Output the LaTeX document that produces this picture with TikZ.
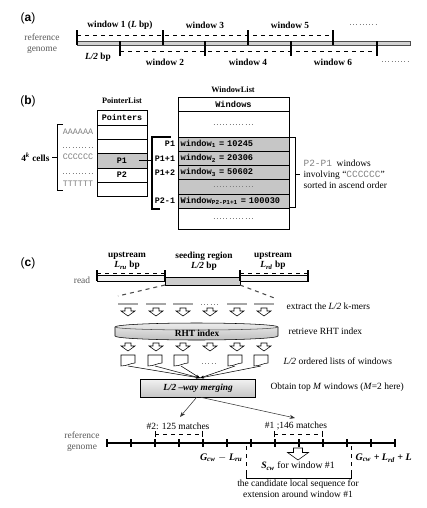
\documentclass[tikz,border=0pt]{standalone}
\usepackage{fontspec}
\setmainfont{Liberation Serif}
\setsansfont{Liberation Sans}
\setmonofont{Liberation Mono}
\usetikzlibrary{positioning,arrows.meta,calc}

\begin{document}
\begin{tikzpicture}[x=0.75pt,y=-0.75pt,
    lbl/.style={font=\fontsize{7.1}{8.3}\selectfont,inner sep=1pt},
    blbl/.style={font=\fontsize{7}{7.6}\selectfont\bfseries,inner sep=1pt},
    glbl/.style={lbl,text=gray!70!black,align=center},
    panel/.style={font=\fontsize{9}{10}\selectfont\sffamily,inner sep=0pt},
    code/.style={font=\fontsize{6.3}{7}\selectfont\ttfamily,inner sep=1pt},
    ptr/.style={draw,outer sep=0pt,minimum width=37.5pt,minimum height=10.75pt,inner sep=0pt,font=\fontsize{6.3}{7}\selectfont\ttfamily\bfseries},
    win/.style={draw,outer sep=0pt,minimum width=83.25pt,minimum height=10.65pt,inner sep=0pt,font=\fontsize{6.5}{7}\selectfont\ttfamily\bfseries},
    wrow/.style={win,fill=gray!45,text width=79.25pt,inner xsep=2pt,align=left},
    dots/.style={dotted,gray},
    tick/.style={line width=0.9pt},
    arr/.style={-{Stealth[length=4pt,width=3pt]}},
    dnarrow/.pic={\draw[fill=white] (-3,0) -- (3,0) -- (3,3) -- (7,3) -- (0,8) -- (-7,3) -- (-3,3) -- cycle;},
    wlist/.pic={\draw[fill=white] (-7,0) -- (7,0) -- (7,8) .. controls (3,8) and (-1,11) .. (-7,11) -- cycle;}
  ]
  \useasboundingbox (0,0) rectangle (426,508);

  % (a) overlapping windows
  \node[panel] (pa) at (28,18) {(\textbf{a})};
  \draw[fill=gray!35,draw=gray!60!black] (77,41) rectangle (410,45);
  \foreach \x in {77,163,248,333} \draw[tick] (\x,30) -- (\x,45);
  \draw[dashed] (77,35) -- (333,35);
  \foreach \x in {120,205,291,377} \draw[tick] (\x,41) -- (\x,56);
  \draw[dashed] (120,51) -- (377,51);
  \node[blbl] (w1) at (120,25) {window 1 (\textit{L} bp)};
  \node[blbl] (w3) at (205,25) {window 3};
  \node[blbl] (w5) at (290,25) {window 5};
  \draw[dots] (350,24) -- (377,24);
  \node[blbl] (w2) at (165,62) {window 2};
  \node[blbl] (w4) at (248,62) {window 4};
  \node[blbl] (w6) at (333,62) {window 6};
  \draw[dots] (382,61) -- (409,61);
  \node[blbl] (half) at (98,57) {\textit{L/2} bp};
  \node[glbl] (refa) at (42,44) {reference\\genome};

  % (b) pointer list and window list
  \node[panel] (pb) at (28,101) {(\textbf{b})};
  \node[blbl,font=\fontsize{6.2}{7}\selectfont\bfseries] (wl) at (233,90) {WindowList};
  \node[blbl,font=\fontsize{6.2}{7}\selectfont\bfseries] (pl) at (122,101) {PointerList};

  \node[ptr,minimum height=11.25pt] (ph) at (122,117.5) {Pointers};
  \node[ptr,below=0pt of ph] (p1) {};
  \node[ptr,below=0pt of p1] (p2) {};
  \node[ptr,below=0pt of p2,fill=gray!45] (pP1) {P1};
  \node[ptr,below=0pt of pP1] (pP2) {P2};
  \node[ptr,below=0pt of pP2] (p6) {};

  \node[code,text=gray] (aa) at (78,132) {AAAAAA};
  \draw[dots] (63,147) -- (94,147);
  \node[code,text=gray] (cc) at (78,157) {CCCCCC};
  \draw[dots] (63,173) -- (94,173);
  \node[code,text=gray] (tt) at (78,184) {TTTTTT};
  \draw (63,124) -- (57,124) -- (57,190) -- (63,190);
  \draw (52,157) -- (57,157);
  \node[blbl,anchor=east] (cells) at (51,157) {4\textsuperscript{\textit{k}} cells};

  \node[win,minimum height=10.5pt] (wh) at (233.5,104) {Windows};
  \node[win,minimum height=19.5pt,below=0pt of wh] (wb1) {};
  \draw[dots] ([xshift=-15pt]wb1.center) -- ([xshift=15pt]wb1.center);
  \node[wrow,below=0pt of wb1] (r1) {window\textsubscript{1} = 10245};
  \node[wrow,below=0pt of r1] (r2) {window\textsubscript{2} = 20306};
  \node[wrow,below=0pt of r2] (r3) {window\textsubscript{3} = 50602};
  \node[wrow,below=0pt of r3] (r4) {\strut};
  \draw[dots] ([xshift=-15pt]r4.center) -- ([xshift=15pt]r4.center);
  \node[wrow,below=0pt of r4] (r5) {Window\textsubscript{P2-P1+1} = 100030};
  \node[win,minimum height=15.75pt,below=0pt of r5] (wb2) {};
  \draw[dots] ([xshift=-15pt]wb2.center) -- ([xshift=15pt]wb2.center);

  \node[code,font=\fontsize{6.3}{7}\selectfont\ttfamily\bfseries,left=1pt of r1] (l1) {P1};
  \node[code,font=\fontsize{6.3}{7}\selectfont\ttfamily\bfseries,left=1pt of r2] (l2) {P1+1};
  \node[code,font=\fontsize{6.3}{7}\selectfont\ttfamily\bfseries,left=1pt of r3] (l3) {P1+2};
  \node[code,font=\fontsize{6.3}{7}\selectfont\ttfamily\bfseries,left=1pt of r5] (l5) {P2-1};

  \coordinate (br) at (152,137);
  \draw[thick] (br -| l2.east) ++(-6,0) -- (br) -- (152,209) -- (160,209);
  \draw[thick] ([xshift=-6pt]pP1.east) -- (pP1.east -| br);

  \draw (290,137) -- (295,137) -- (295,207) -- (290,207);
  \draw (295,174) -- (300,174);
  \node[lbl,anchor=west,align=left] (desc) at (302,174)
    {{\ttfamily\color{gray}P2-P1}\ \ windows\\involving ``{\ttfamily\color{gray}CCCCCC}''\\sorted in ascend order};

  % (c) seeding and candidate selection
  \node[panel] (pc) at (28,263) {(\textbf{c})};
  \node[blbl,align=center] (up1) at (127,261) {upstream\\\textit{L}\textsubscript{\textit{ru}} bp};
  \node[blbl,align=center] (seed) at (204,261) {seeding region\\\textit{L/2} bp};
  \node[blbl,align=center] (up2) at (273,261) {upstream\\\textit{L}\textsubscript{\textit{rd}} bp};
  \draw[fill=gray!10] (97,275) rectangle (165,281);
  \draw[fill=gray!10] (240,275) rectangle (308,281);
  \draw[fill=gray!40] (165,277) rectangle (240,285);
  \draw[dashed] (97,273) -- (165,273);
  \draw[dashed] (240,273) -- (308,273);
  \foreach \x in {97,165,240,308} \draw[thick] (\x,270) -- (\x,281);
  \node[glbl] (read) at (82,280) {read};
  \draw[dashed,thick,gray!60!black] (165,285) -- (118,296);
  \draw[dashed,thick,gray!60!black] (240,285) -- (277,299);

  \foreach \x in {128,156,183,237,264} \draw[line width=1.5pt,gray!70] (\x-10,304) -- (\x+10,304);
  \draw[dots] (201,304) -- (219,304);
  \foreach \x in {128,156,183,210,237,264} \pic at (\x,308) {dnarrow};
  \node[lbl,anchor=west] (ext) at (285,306) {extract the \textit{L/2} k-mers};

  \draw[top color=gray!15,bottom color=gray!50] (115,327) -- (115,336)
    arc[start angle=180,end angle=0,x radius=81.5,y radius=4] -- (278,327)
    arc[start angle=0,end angle=-180,x radius=81.5,y radius=4] -- cycle;
  \draw[gray!60!black] (115,327) arc[start angle=180,end angle=0,x radius=81.5,y radius=3];
  \node[blbl] (rht) at (197,333) {RHT index};
  \node[lbl,anchor=west] (ret) at (287,331) {retrieve RHT index};

  \foreach \x in {128,156,183,210,237,264} \pic at (\x,343) {dnarrow};
  \foreach \x in {128,155,181,235,261} {
    \pic at (\x,355) {wlist};
    \coordinate (ls\x) at (\x,366);
  }
  \draw[dots] (202,363) -- (217,363);
  \node[lbl,anchor=west] (ord) at (282,361) {\textit{L/2} ordered lists of windows};

  \coordinate (mp) at (200,378);
  \foreach \x in {128,155,181,235,261} \draw[-{Stealth[length=3pt,width=2pt]},thin] (ls\x) -- (mp);

  \node[draw,top color=gray!10,bottom color=gray!45,minimum width=86pt,minimum height=13.5pt,inner sep=0pt,
        font=\fontsize{7}{7.6}\selectfont\bfseries\itshape] (merge) at (198,388) {L/2 --way merging};
  \node[lbl,anchor=west] (topm) at (269,387) {Obtain top \textit{M} windows (\textit{M}=2 here)};

  \coordinate (m2) at (180,417);
  \coordinate (m1) at (295,418);
  \draw[arr,gray!40!black] ([xshift=-1pt]merge.south) -- (m2);
  \draw[arr,gray!40!black] ([xshift=2pt]merge.south) -- (m1);
  \node[lbl] (n2) at (178,426) {\#2: 125 matches};
  \node[lbl] (n1) at (296,426) {\#1 ;146 matches};
  \draw[dashed,{Bar[width=5pt]}-{Bar[width=5pt]}] (155,434) -- (203,434);
  \draw[dashed,{Bar[width=5pt]}-{Bar[width=5pt]}] (274,434) -- (323,434);

  \draw[line width=1.6pt] (107,443) -- (395,443);
  \foreach \i in {0,...,12} \draw[thick] (107+24*\i,439) -- (107+24*\i,447);
  \node[glbl] (refc) at (82,442) {reference\\genome};

  \draw[dashed] (246,446) -- (246,474);
  \draw[dashed] (351,446) -- (351,474);
  \draw (246,472) -- (246,478) -- (351,478) -- (351,472);
  \pic[scale=1.5] at (298,448) {dnarrow};
  \node[lbl,font=\fontsize{7.3}{8}\selectfont] (scw) at (298,466)
    {\textbf{\textit{S}}\textsubscript{\textbf{\textit{cw}}} for window \#1};
  \node[blbl,anchor=east,font=\fontsize{7.5}{8}\selectfont\bfseries\itshape] (gl) at (244,458)
    {G\textsubscript{cw} $-$ L\textsubscript{ru}};
  \node[blbl,anchor=west,font=\fontsize{7.5}{8}\selectfont\bfseries\itshape] (gr) at (354,458)
    {G\textsubscript{cw} + L\textsubscript{rd} + L};
  \node[lbl,align=center] (cand) at (298,489)
    {the candidate local sequence for\\extension around window \#1};
\end{tikzpicture}
\end{document}
